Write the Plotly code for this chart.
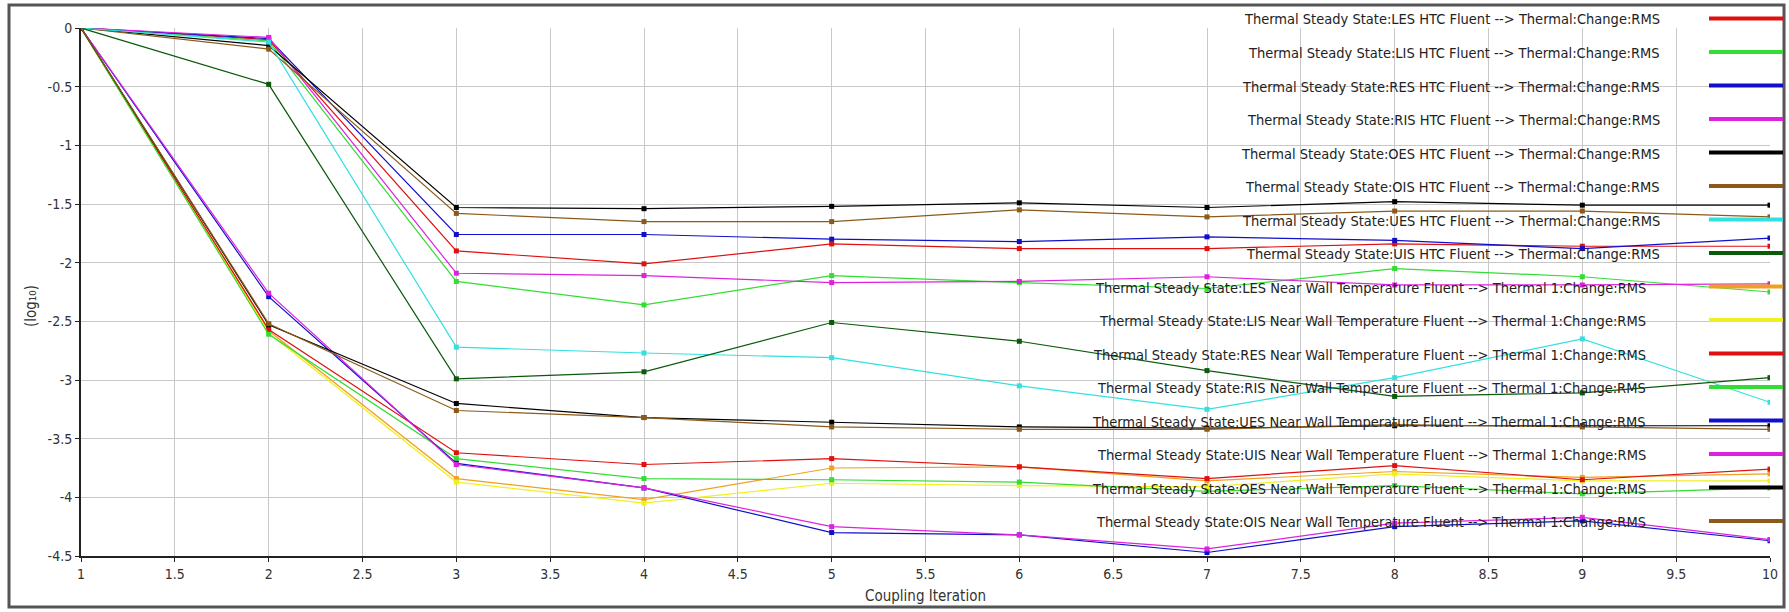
import plotly.graph_objects as go

iterations = [1, 2, 3, 4, 5, 6, 7, 8, 9, 10]

names = [
    "Thermal Steady State:LES HTC Fluent --> Thermal:Change:RMS",
    "Thermal Steady State:LIS HTC Fluent --> Thermal:Change:RMS",
    "Thermal Steady State:RES HTC Fluent --> Thermal:Change:RMS",
    "Thermal Steady State:RIS HTC Fluent --> Thermal:Change:RMS",
    "Thermal Steady State:OES HTC Fluent --> Thermal:Change:RMS",
    "Thermal Steady State:OIS HTC Fluent --> Thermal:Change:RMS",
    "Thermal Steady State:UES HTC Fluent --> Thermal:Change:RMS",
    "Thermal Steady State:UIS HTC Fluent --> Thermal:Change:RMS",
    "Thermal Steady State:LES Near Wall Temperature Fluent --> Thermal 1:Change:RMS",
    "Thermal Steady State:LIS Near Wall Temperature Fluent --> Thermal 1:Change:RMS",
    "Thermal Steady State:RES Near Wall Temperature Fluent --> Thermal 1:Change:RMS",
    "Thermal Steady State:RIS Near Wall Temperature Fluent --> Thermal 1:Change:RMS",
    "Thermal Steady State:UES Near Wall Temperature Fluent --> Thermal 1:Change:RMS",
    "Thermal Steady State:UIS Near Wall Temperature Fluent --> Thermal 1:Change:RMS",
    "Thermal Steady State:OES Near Wall Temperature Fluent --> Thermal 1:Change:RMS",
    "Thermal Steady State:OIS Near Wall Temperature Fluent --> Thermal 1:Change:RMS",
]

colors = [
    "#e01010", "#33dd33", "#1010cc", "#dd22dd", "#000000", "#8b5a1a", "#33e0e0", "#0a5a0a",
    "#f0a020", "#f0f020", "#e01010", "#33dd33", "#1010cc", "#dd22dd", "#000000", "#8b5a1a",
]

les_htc = [0, -0.10, -1.90, -2.01, -1.84, -1.88, -1.88, -1.84, -1.86, -1.86]
lis_htc = [0, -0.11, -2.16, -2.36, -2.11, -2.17, -2.22, -2.05, -2.12, -2.25]
res_htc = [0, -0.09, -1.76, -1.76, -1.80, -1.82, -1.78, -1.81, -1.88, -1.79]
ris_htc = [0, -0.08, -2.09, -2.11, -2.17, -2.16, -2.12, -2.19, -2.19, -2.18]
oes_htc = [0, -0.15, -1.53, -1.54, -1.52, -1.49, -1.53, -1.48, -1.51, -1.51]
ois_htc = [0, -0.18, -1.58, -1.65, -1.65, -1.55, -1.61, -1.56, -1.56, -1.61]
ues_htc = [0, -0.12, -2.72, -2.77, -2.81, -3.05, -3.25, -2.98, -2.65, -3.19]
uis_htc = [0, -0.48, -2.99, -2.93, -2.51, -2.67, -2.92, -3.14, -3.11, -2.98]
les_nw = [0, -2.58, -3.84, -4.02, -3.75, -3.74, -3.86, -3.78, -3.83, -3.80]
lis_nw = [0, -2.60, -3.87, -4.05, -3.88, -3.90, -3.91, -3.80, -3.86, -3.86]
res_nw = [0, -2.57, -3.62, -3.72, -3.67, -3.74, -3.84, -3.73, -3.85, -3.76]
ris_nw = [0, -2.61, -3.67, -3.84, -3.85, -3.87, -3.95, -3.90, -3.97, -3.92]
ues_nw = [0, -2.29, -3.71, -3.92, -4.30, -4.32, -4.47, -4.25, -4.20, -4.37]
uis_nw = [0, -2.26, -3.72, -3.92, -4.25, -4.32, -4.44, -4.22, -4.17, -4.36]
oes_nw = [0, -2.53, -3.20, -3.32, -3.36, -3.40, -3.41, -3.39, -3.39, -3.39]
ois_nw = [0, -2.52, -3.26, -3.32, -3.40, -3.42, -3.42, -3.38, -3.40, -3.42]

series = [les_htc, lis_htc, res_htc, ris_htc, oes_htc, ois_htc, ues_htc, uis_htc,
          les_nw, lis_nw, res_nw, ris_nw, ues_nw, uis_nw, oes_nw, ois_nw]

x_ticks = [1, 1.5, 2, 2.5, 3, 3.5, 4, 4.5, 5, 5.5, 6, 6.5, 7, 7.5, 8, 8.5, 9, 9.5, 10]
y_ticks = [0, -0.5, -1, -1.5, -2, -2.5, -3, -3.5, -4, -4.5]

FONT = "DejaVu Sans Condensed, Liberation Sans Narrow, DejaVu Sans"
W, H = 1789, 612
ML, MR, MT, MB = 81, 19, 28, 56
PW = W - ML - MR
PH = H - MT - MB

fig = go.Figure()
for name, col, vals in zip(names, colors, series):
    fig.add_trace(go.Scatter(
        x=iterations, y=vals, name=name, mode="lines+markers",
        line=dict(color=col, width=1.2),
        marker=dict(symbol="square", size=5, color=col),
        showlegend=False,
    ))

def px_to_paper_x(px):
    return (px - ML) / PW

def px_to_paper_y(py):
    return (H - MB - py) / PH

annotations = []
shapes = []
legend_top = 19.5
legend_step = 33.5
for i, (name, col) in enumerate(zip(names, colors)):
    cy = legend_top + i * legend_step
    right_px = 1662 if "HTC" in name else 1648
    annotations.append(dict(
        x=px_to_paper_x(right_px), y=px_to_paper_y(cy), xref="paper", yref="paper",
        text=name, showarrow=False, xanchor="right", yanchor="middle",
        font=dict(family=FONT, size=14.5, color="#222222"),
    ))
    shapes.append(dict(
        type="line", xref="paper", yref="paper",
        x0=px_to_paper_x(1709), x1=px_to_paper_x(1783),
        y0=px_to_paper_y(cy - 1), y1=px_to_paper_y(cy - 1),
        line=dict(color=col, width=4),
    ))

# y-axis title placed as rotated annotation
annotations.append(dict(
    x=px_to_paper_x(31), y=px_to_paper_y(306), xref="paper", yref="paper",
    text="(log₁₀)", showarrow=False, textangle=-90,
    xanchor="center", yanchor="middle",
    font=dict(family=FONT, size=15, color="#333333"),
))

# outer frame
shapes.append(dict(
    type="rect", xref="paper", yref="paper",
    x0=px_to_paper_x(9), x1=px_to_paper_x(1784),
    y0=px_to_paper_y(607), y1=px_to_paper_y(5),
    line=dict(color="#555555", width=3), fillcolor="rgba(0,0,0,0)", layer="below",
))

fig.update_layout(
    width=W, height=H,
    margin=dict(l=ML, r=MR, t=MT, b=MB, autoexpand=False),
    paper_bgcolor="white", plot_bgcolor="white",
    font=dict(family=FONT, size=14, color="#333333"),
    annotations=annotations, shapes=shapes,
    showlegend=False,
)
fig.update_xaxes(
    range=[1, 10], tickvals=x_ticks, ticktext=[f"{v:g}" for v in x_ticks],
    showgrid=True, gridcolor="#c8c8c8", gridwidth=1,
    showline=True, linecolor="#222222", linewidth=2,
    ticks="outside", ticklen=4, tickcolor="#222222",
    zeroline=False, automargin=False,
    title=dict(text="Coupling Iteration", font=dict(family=FONT, size=15, color="#333333"), standoff=10),
    tickfont=dict(family=FONT, size=14, color="#333333"),
)
fig.update_yaxes(
    range=[-4.5, 0], tickvals=y_ticks, ticktext=[f"{v:g}" for v in y_ticks],
    showgrid=True, gridcolor="#c8c8c8", gridwidth=1,
    showline=True, linecolor="#222222", linewidth=2,
    ticks="outside", ticklen=4, tickcolor="#222222",
    zeroline=False, automargin=False,
    tickfont=dict(family=FONT, size=14, color="#333333"),
)

fig.write_html(
    "out.html",
    config={"displayModeBar": False},
    post_script="document.body.style.margin='0';document.body.style.overflow='hidden';",
)
